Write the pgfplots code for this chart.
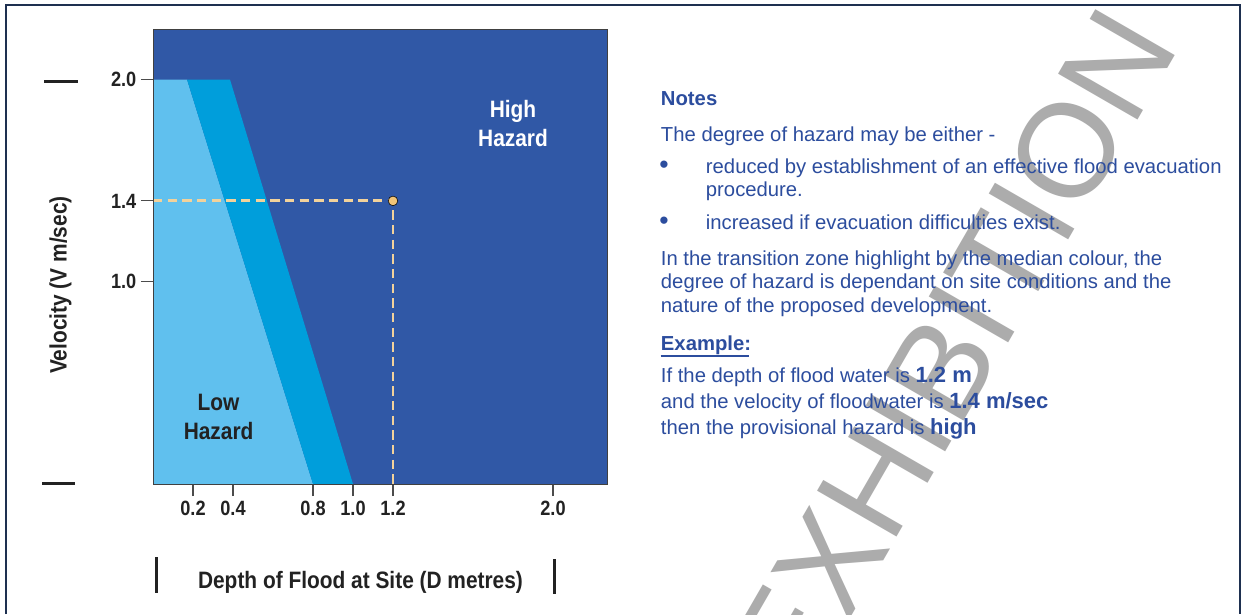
\documentclass[border=0pt]{standalone}
\usepackage{pgfplots}
\pgfplotsset{compat=1.18}
\usepackage{fontspec}
\setmainfont{Liberation Sans}
\newfontfamily\cond{Liberation Sans}[FakeStretch=0.88]

\definecolor{hazhigh}{RGB}{48,88,166}
\definecolor{haztrans}{RGB}{0,158,219}
\definecolor{hazlow}{RGB}{96,192,238}
\definecolor{dashc}{RGB}{242,210,155}
\definecolor{dotc}{RGB}{240,196,120}
\definecolor{notec}{RGB}{44,77,158}
\definecolor{framec}{RGB}{30,48,80}
\definecolor{wmark}{RGB}{172,172,172}
\definecolor{inkc}{RGB}{34,34,34}

\begin{document}
\begin{tikzpicture}
% page, watermark and notes, in pixel units (y downwards)
\begin{scope}[x=0.75pt,y=-0.75pt]
  \path[use as bounding box, fill=white] (0,0) rectangle (1242,614);
  \begin{scope}
    \clip (6,5) rectangle (1240,614);
    \node[rotate=60, text=wmark, inner sep=0, font=\fontsize{100}{100}\selectfont] at (952,350) {EXHIBITION};
  \end{scope}

  \begin{scope}[every node/.style={anchor=base west, inner sep=0, text=notec,
      font=\fontsize{15.2}{18}\selectfont}]
    \node at (660.7,105.7) {\bfseries Notes};
    \node at (660.7,141.7) {The degree of hazard may be either -};
    \node[anchor=base] at (664,173.3) {{\fontsize{20}{20}\selectfont\textbullet}};
    \node at (705.7,173.3) {reduced by establishment of an effective flood evacuation};
    \node at (705.7,196.7) {procedure.};
    \node[anchor=base] at (664,229) {{\fontsize{20}{20}\selectfont\textbullet}};
    \node at (705.7,229) {increased if evacuation difficulties exist.};
    \node at (660.7,265) {In the transition zone highlight by the median colour, the};
    \node at (660.7,288.3) {degree of hazard is dependant on site conditions and the};
    \node at (660.7,312.7) {nature of the proposed development.};
    \node at (660.7,350) {\bfseries Example:};
    \node at (660.7,382.7) {If the depth of flood water is {\bfseries\fontsize{16.5}{18}\selectfont 1.2 m}};
    \node at (660.7,408.3) {and the velocity of floodwater is {\bfseries\fontsize{16.5}{18}\selectfont 1.4 m/sec}};
    \node at (660.7,434) {then the provisional hazard is {\bfseries\fontsize{16.5}{18}\selectfont high}};
  \end{scope}
  \draw[notec, line width=1.1pt] (660.7,356) -- (749,356);
\end{scope}

\begin{axis}[
  at={(114.75pt,-363pt)}, anchor=south west,
  scale only axis, width=340.5pt, height=341.25pt,
  xmin=0, xmax=2.27, ymin=0, ymax=2.25,
  axis background/.style={fill=hazhigh},
  axis on top,
  axis line style={draw=black!75, line width=0.6pt},
  xtick={0.2,0.4,0.8,1.0,1.2,2.0},
  xticklabels={0.2,0.4,0.8,1.0,1.2,2.0},
  ytick={1.0,1.4,2.0},
  yticklabels={1.0,1.4,2.0},
  tick align=outside, tick pos=left,
  major tick length=9pt,
  tick style={black!70, line width=0.9pt},
  ticklabel style={font=\cond\bfseries\fontsize{15.5}{16}\selectfont, text=inkc},
]
  % low hazard zone
  \addplot[fill=hazlow, draw=none] coordinates {(0,0) (0,2) (0.17,2) (0.8,0)} -- cycle;
  % transition zone
  \addplot[fill=haztrans, draw=none] coordinates {(0.17,2) (0.385,2) (1.0,0) (0.8,0)} -- cycle;
  % example: depth 1.2 m, velocity 1.4 m/sec
  \addplot[dashc, line width=2.2pt, dash pattern=on 7pt off 4pt] coordinates {(0,1.4) (1.2,1.4) (1.2,0)};
  \addplot[only marks, mark=*, mark size=3.6pt, mark options={fill=dotc, draw=none}] coordinates {(1.2,1.4)};
\end{axis}

\begin{scope}[x=0.75pt,y=-0.75pt,
    every node/.style={inner sep=0, font=\cond\bfseries\fontsize{17.8}{21}\selectfont}]
  \node[rotate=90, anchor=base, text=inkc] at (66.5,285) {Velocity (V m/sec)};
  \node[anchor=base, text=inkc] at (360.5,588) {Depth of Flood at Site (D metres)};
  \node[anchor=base, text=white] at (513,117.8) {High};
  \node[anchor=base, text=white] at (513,146) {Hazard};
  \node[anchor=base, text=inkc] at (218.6,410) {Low};
  \node[anchor=base, text=inkc] at (218.6,439) {Hazard};
  \draw[inkc, line width=2.25pt] (44,81) -- (78,81);
  \draw[inkc, line width=2.25pt] (42,483) -- (75,483);
  \draw[inkc, line width=2.25pt] (156,557) -- (156,593);
  \draw[inkc, line width=2.25pt] (554,559) -- (554,594);
  \draw[framec, line width=1.5pt] (6,614) -- (6,5) -- (1240,5) -- (1240,614);
\end{scope}
\end{tikzpicture}
\end{document}
